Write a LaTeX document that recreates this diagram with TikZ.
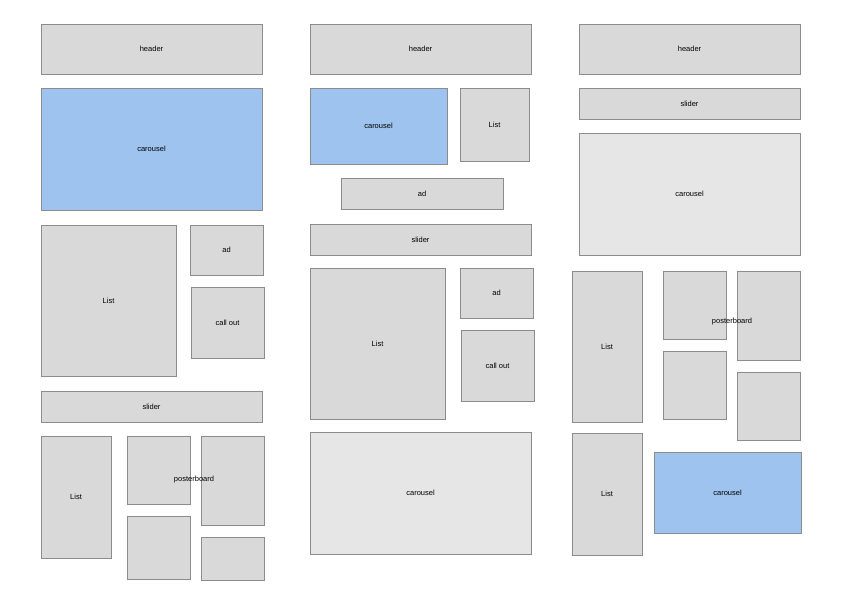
\documentclass[tikz,border=0pt]{standalone}
\usepackage{fontspec}
\setmainfont{Liberation Sans}
\usepackage{tikz}
\definecolor{boxgray}{HTML}{D9D9D9}
\definecolor{boxlight}{HTML}{E6E6E6}
\definecolor{boxblue}{HTML}{9DC3EE}
\definecolor{boxline}{HTML}{8C8C8C}
\tikzset{
  wire/.style={draw=boxline, line width=0.6pt, fill=boxgray, inner sep=0pt,
    font=\fontsize{7.5}{9}\selectfont},
  wireblue/.style={wire, fill=boxblue},
  wirelight/.style={wire, fill=boxlight},
  lbl/.style={inner sep=0pt, font=\fontsize{7.5}{9}\selectfont}
}
% \wbox{name}{style}{x1}{y1}{x2}{y2}{text}
\newcommand{\wbox}[7]{%
  \node[#2, minimum width={(#5-#3)*1pt}, minimum height={(#6-#4)*1pt}]
    (#1) at ({(#3+#5)/2},{(#4+#6)/2}) {#7};}
\begin{document}
\begin{tikzpicture}[x=1pt, y=-1pt]
      \useasboundingbox (0,0) rectangle (842,595);
      % first column
      \wbox{headA}{wire}{41}{24}{262}{74}{header}
      \wbox{carA}{wireblue}{41}{88}{262}{210}{carousel}
      \wbox{listA}{wire}{41}{225}{176}{376}{List}
      \wbox{adA}{wire}{190}{225}{263}{275}{ad}
      \wbox{callA}{wire}{191}{287}{264}{358}{call out}
      \wbox{sliA}{wire}{41}{391}{262}{422}{slider}
      \wbox{listAb}{wire}{41}{436}{111}{558}{List}
      \wbox{postA1}{wire}{127}{436}{190}{504}{}
      \wbox{postA2}{wire}{201}{436}{264}{525}{}
      \wbox{postA3}{wire}{127}{516}{190}{579}{}
      \wbox{postA4}{wire}{201}{537}{264}{580}{}
      \node[lbl] (postA) at (194,480) {posterboard};
      % second column
      \wbox{headB}{wire}{310}{24}{531}{74}{header}
      \wbox{carB}{wireblue}{310}{88}{447}{164}{carousel}
      \wbox{listB}{wire}{460}{88}{529}{161}{List}
      \wbox{adB}{wire}{341}{178}{503}{209}{ad}
      \wbox{sliB}{wire}{310}{224}{531}{255}{slider}
      \wbox{listBb}{wire}{310}{268}{445}{419}{List}
      \wbox{adBb}{wire}{460}{268}{533}{318}{ad}
      \wbox{callB}{wire}{461}{330}{534}{401}{call out}
      \wbox{carBb}{wirelight}{310}{432}{531}{554}{carousel}
      % third column
      \wbox{headC}{wire}{579}{24}{800}{74}{header}
      \wbox{sliC}{wire}{579}{88}{800}{119}{slider}
      \wbox{carC}{wirelight}{579}{133}{800}{255}{carousel}
      \wbox{listC}{wire}{572}{271}{642}{422}{List}
      \wbox{postC1}{wire}{663}{271}{726}{339}{}
      \wbox{postC2}{wire}{737}{271}{800}{360}{}
      \wbox{postC3}{wire}{663}{351}{726}{419}{}
      \wbox{postC4}{wire}{737}{372}{800}{440}{}
      \node[lbl] (postC) at (732,322) {posterboard};
      \wbox{listCb}{wire}{572}{433}{642}{555}{List}
      \wbox{carCb}{wireblue}{654}{452}{801}{533}{carousel}
\end{tikzpicture}
\end{document}
